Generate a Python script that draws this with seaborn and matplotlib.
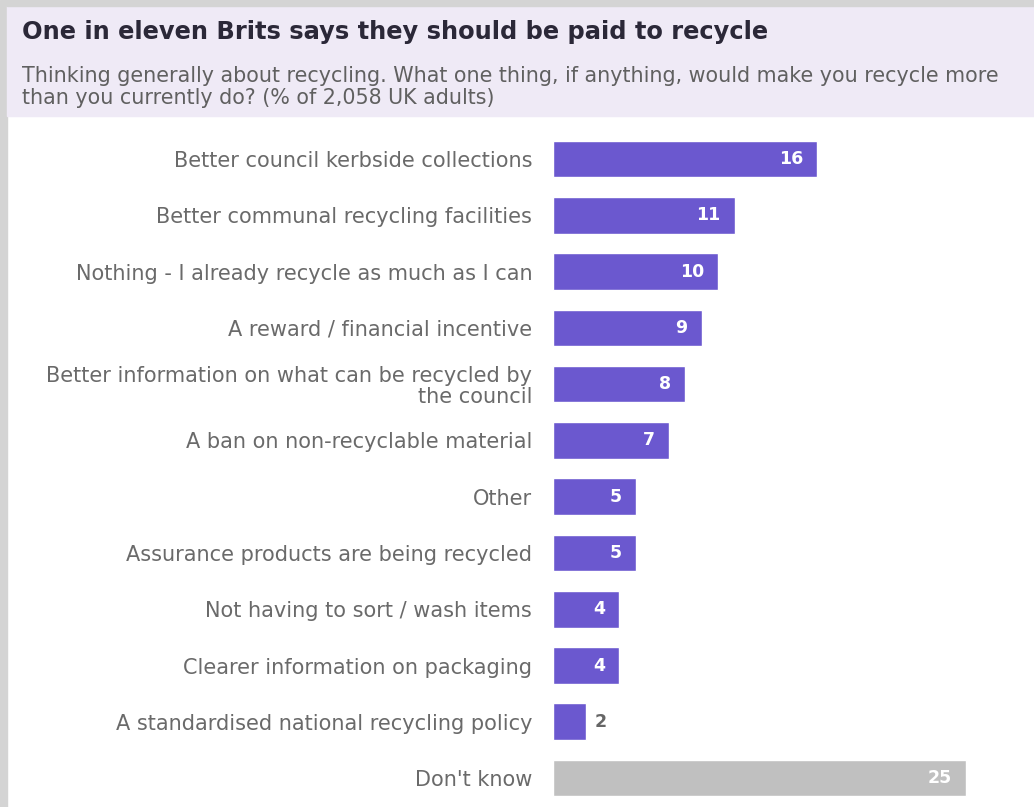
import matplotlib
matplotlib.use("Agg")
import matplotlib.pyplot as plt
from matplotlib.patches import Rectangle
import seaborn as sns
import pandas as pd

# Survey answers and share of respondents (%)
categories = [
    "Better council kerbside collections",
    "Better communal recycling facilities",
    "Nothing - I already recycle as much as I can",
    "A reward / financial incentive",
    "Better information on what can be recycled by\nthe council",
    "A ban on non-recyclable material",
    "Other",
    "Assurance products are being recycled",
    "Not having to sort / wash items",
    "Clearer information on packaging",
    "A standardised national recycling policy",
    "Don't know",
]
values = [16, 11, 10, 9, 8, 7, 5, 5, 4, 4, 2, 25]

title = "One in eleven Brits says they should be paid to recycle"
subtitle = ("Thinking generally about recycling. What one thing, if anything, would make you recycle more\n"
            "than you currently do? (% of 2,058 UK adults)")

PURPLE = "#6b58cf"
GREY_BAR = "#c0c0c0"
bar_colors = [GREY_BAR if c == "Don't know" else PURPLE for c in categories]

sns.set_theme(style="white")
plt.rcParams["font.family"] = ["DejaVu Sans"]

W, H = 1034, 807
fig = plt.figure(figsize=(W / 100, H / 100), dpi=100)
fig.patch.set_facecolor("white")

# page frame and header band
fig.patches.append(Rectangle((0, 0), 7 / W, 1, transform=fig.transFigure,
                             color="#d4d4d4", zorder=0))
fig.patches.append(Rectangle((7 / W, 1 - 116 / H), 1, 110 / H, transform=fig.transFigure,
                             color="#efeaf6", zorder=0))
fig.patches.append(Rectangle((7 / W, 1 - 6 / H), 1, 6 / H, transform=fig.transFigure,
                             color="#d4d4d4", zorder=1))

fig.text(22 / W, 1 - 32 / H, title, fontsize=17.4, fontweight="bold",
         color="#2b2838", va="center", ha="left")
fig.text(22 / W, 1 - 87 / H, subtitle, fontsize=14.9, color="#606060",
         va="center", ha="left", linespacing=1.1)

df = pd.DataFrame({"category": categories, "value": values})

ax = fig.add_axes([553 / W, 0.001, 462 / W, 675.3 / H])
sns.barplot(data=df, x="value", y="category", hue="category",
            palette=bar_colors, legend=False, width=0.65,
            saturation=1, ax=ax, orient="h")
ax.set_xlim(0, 28)
ax.set_ylim(len(categories) - 0.5, -0.5)
ax.set_xlabel("")
ax.set_ylabel("")
ax.set_xticks([])
ax.tick_params(axis="y", length=0, pad=15, labelsize=15, labelcolor="#6a6a6a")
for lbl in ax.get_yticklabels():
    lbl.set_linespacing(1.05)
for s in ax.spines.values():
    s.set_visible(False)
ax.set_facecolor("none")

for patch, v in zip(ax.patches, values):
    y = patch.get_y() + patch.get_height() / 2
    if v >= 3:
        ax.annotate(f"{v}", (v, y), xytext=(-10, 0), textcoords="offset points",
                    ha="right", va="center", color="white",
                    fontsize=12.5, fontweight="bold")
    else:
        ax.annotate(f"{v}", (v, y), xytext=(6, 0), textcoords="offset points",
                    ha="left", va="center", color="#666666",
                    fontsize=12.5, fontweight="bold")

fig.savefig("out.png", dpi=100)
